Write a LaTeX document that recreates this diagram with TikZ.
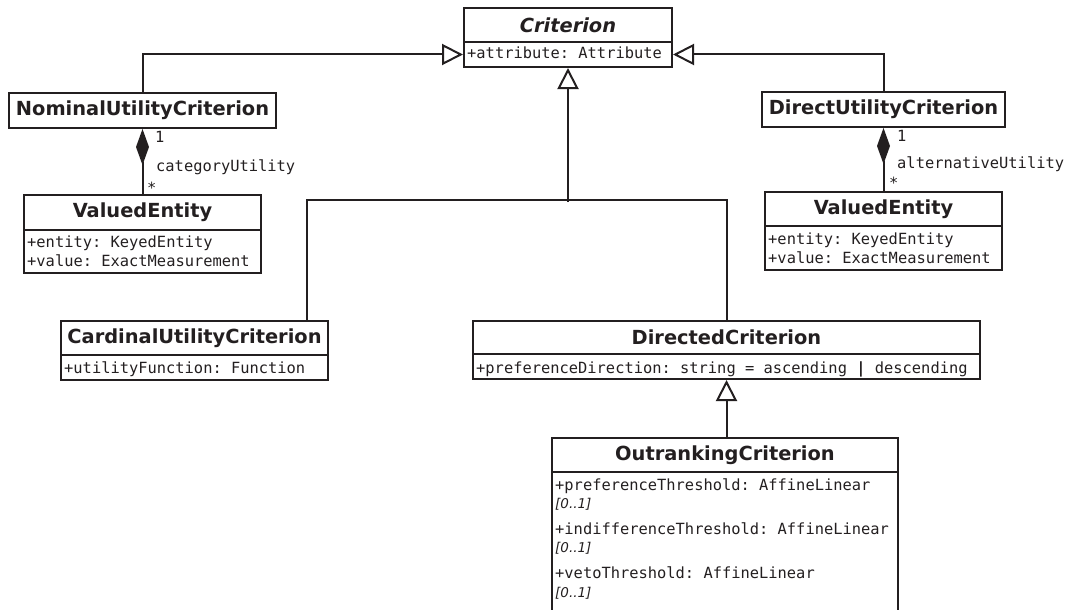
\documentclass[tikz,border=0pt]{standalone}
\usepackage{fontspec}
\setsansfont{DejaVu Sans}
\setmonofont{DejaVu Sans Mono}
\usetikzlibrary{arrows.meta}
\definecolor{ink}{HTML}{231F20}

\tikzset{
  cls/.style={draw, line width=2pt, inner sep=0pt, font=\sffamily\bfseries\fontsize{19.4}{22}\selectfont},
  attrs/.style={draw, line width=2pt, inner sep=0pt},
  mono/.style={inner sep=0pt, anchor=base west, font=\ttfamily\fontsize{15.4}{18}\selectfont},
  mult/.style={inner sep=0pt, anchor=base west, font=\sffamily\itshape\fontsize{13.5}{15}\selectfont},
  inherit/.style={line width=2pt, -{Triangle[open, length=21pt, width=21pt]}},
  compo/.style={line width=2pt, {Diamond[length=36pt, width=13pt]}-},
}

\begin{document}
\begin{tikzpicture}[x=1pt,y=-1pt,color=ink]
	\useasboundingbox (0,0) rectangle (1071,610);
	\clip (0,0) rectangle (1071,610);

	%Criterion
	\node[cls, minimum width=208pt, minimum height=34pt] (crit) at (568,25) {\itshape Criterion};
	\node[attrs, minimum width=208pt, minimum height=25pt] (crit-a) at (568,54.5) {};
	\node[mono] (crit-1) at (467,59) {+attribute: Attribute};

	%nominal utility
	\node[cls, minimum width=267pt, minimum height=35pt] (nom) at (142.5,110.5) {NominalUtilityCriterion};

	%valued entity, left
	\node[cls, minimum width=237pt, minimum height=35pt] (vel) at (142.5,212.5) {ValuedEntity};
	\node[attrs, minimum width=237pt, minimum height=43pt] (vel-a) at (142.5,251.5) {};
	\node[mono] (vel-1) at (27,247) {+entity: KeyedEntity};
	\node[mono] (vel-2) at (27,266) {+value: ExactMeasurement};

	%direct utility
	\node[cls, minimum width=243pt, minimum height=35pt] (dir) at (883.5,109.5) {DirectUtilityCriterion};

	%valued entity, right
	\node[cls, minimum width=237pt, minimum height=34pt] (ver) at (883.5,209) {ValuedEntity};
	\node[attrs, minimum width=237pt, minimum height=44pt] (ver-a) at (883.5,248) {};
	\node[mono] (ver-1) at (768,244) {+entity: KeyedEntity};
	\node[mono] (ver-2) at (768,263) {+value: ExactMeasurement};

	%cardinal utility
	\node[cls, minimum width=267pt, minimum height=34pt] (card) at (194.5,338) {CardinalUtilityCriterion};
	\node[attrs, minimum width=267pt, minimum height=25pt] (card-a) at (194.5,367.5) {};
	\node[mono] (card-1) at (64,373) {+utilityFunction: Function};

	%directed
	\node[cls, minimum width=507pt, minimum height=33pt] (dcrit) at (726.5,337.5) {DirectedCriterion};
	\node[attrs, minimum width=507pt, minimum height=25pt] (dcrit-a) at (726.5,366.5) {};
	\node[mono] (dcrit-1) at (476,373) {+preferenceDirection: string = ascending {\bfseries|} descending};

	%outranking
	\node[cls, minimum width=346pt, minimum height=34pt] (out) at (725,455) {OutrankingCriterion};
	\node[attrs, minimum width=346pt, minimum height=178pt] (out-a) at (725,561) {};
	\node[mono] (out-1) at (555,490) {+preferenceThreshold: AffineLinear};
	\node[mult] (out-1m) at (555,508) {[0..1]};
	\node[mono] (out-2) at (555,534) {+indifferenceThreshold: AffineLinear};
	\node[mult] (out-2m) at (555,552) {[0..1]};
	\node[mono] (out-3) at (555,578) {+vetoThreshold: AffineLinear};
	\node[mult] (out-3m) at (555,597) {[0..1]};

	%generalisations
	\draw[inherit] (nom.north) |- (crit-a.west);
	\draw[inherit] (dir.north) |- (crit-a.east);
	\coordinate (split) at ([yshift=-134pt]crit-a.south);
	\draw[line width=2pt] ([xshift=-22pt]card.north east) |- ([yshift=120pt]dcrit.north) -- (dcrit.north);
	\draw[inherit] (split) -- (crit-a.south);
	\draw[inherit] (dcrit-a.south |- out.north) -- (dcrit-a.south);

	%compositions
	\draw[compo] (nom.south) -- (vel.north);
	\draw[compo] (dir.south) -- (ver.north);

	%role and multiplicity labels
	\node[mono] (nom-one) at (155,142) {1};
	\node[mono] (nom-role) at (156,171) {categoryUtility};
	\node[mono] (nom-many) at (147,193) {*};
	\node[mono] (dir-one) at (897,141) {1};
	\node[mono] (dir-role) at (897,168) {alternativeUtility};
	\node[mono] (dir-many) at (889,188) {*};
\end{tikzpicture}
\end{document}
